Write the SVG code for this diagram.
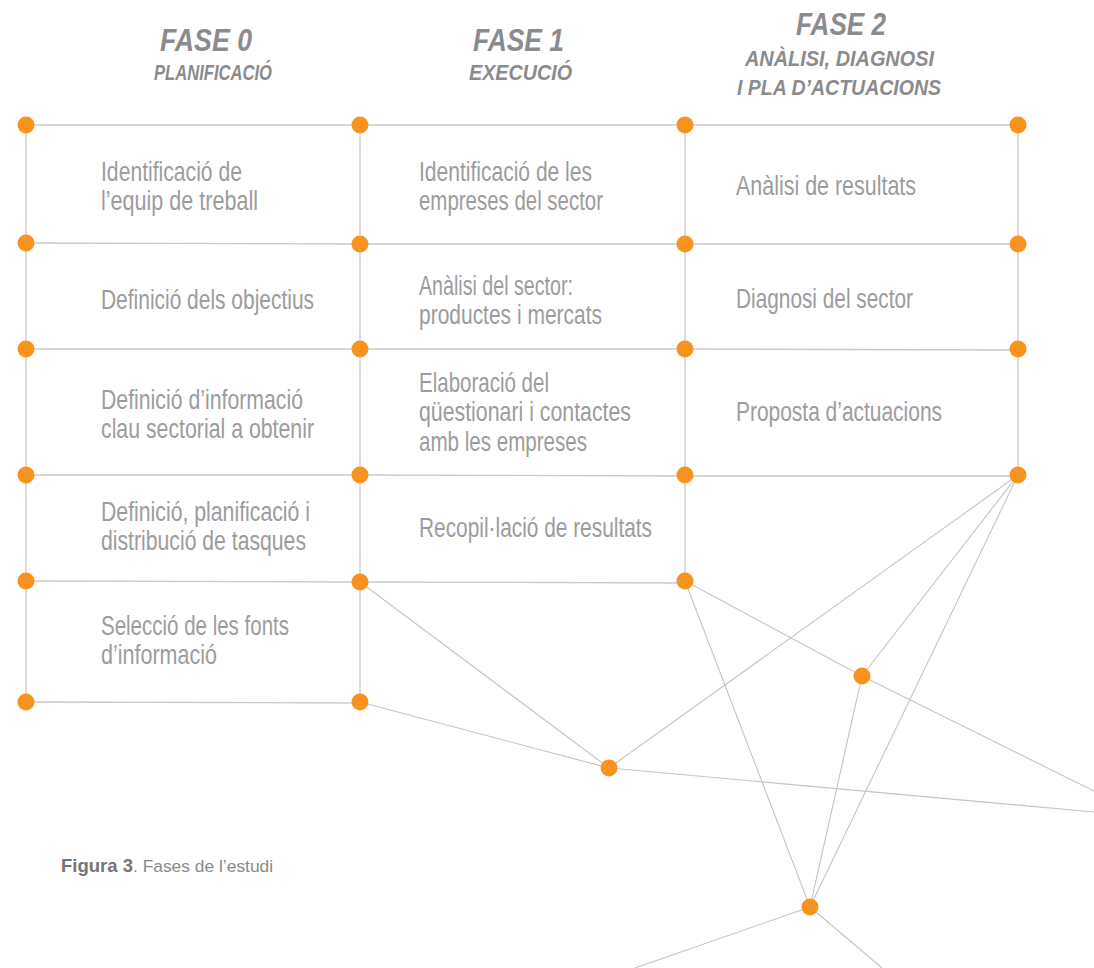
<svg xmlns="http://www.w3.org/2000/svg" width="1094" height="968" viewBox="0 0 1094 968">
<style>
.bg{fill:#ffffff}
.ln{stroke:#c9c9c9;stroke-width:1.3;fill:none}
.dg{stroke:#c4c4c4;stroke-width:1.1;fill:none}
.nd{fill:#f7931e}
.t{font-family:"Liberation Sans Narrow","Liberation Sans",Arial,sans-serif;font-size:27.5px;fill:#9c9c9e}
.h1{font-family:"Liberation Sans Narrow","Liberation Sans",Arial,sans-serif;font-size:32px;font-weight:bold;font-style:italic;fill:#8b8b8d}
.h2{font-family:"Liberation Sans Narrow","Liberation Sans",Arial,sans-serif;font-size:22px;font-weight:bold;font-style:italic;fill:#8b8b8d}
.cap{font-family:"Liberation Sans",Arial,sans-serif;font-size:17.4px;fill:#89898b}
.cb{font-family:"Liberation Sans Narrow","Liberation Sans",Arial,sans-serif;font-size:18.5px;font-weight:bold;fill:#747476}
</style>
<rect class="bg" x="0" y="0" width="1094" height="968"/>

<g id="headers">
<text class="h1" x="160" y="51" textLength="92" lengthAdjust="spacingAndGlyphs">FASE 0</text>
<text class="h2" x="154" y="80" textLength="118" lengthAdjust="spacingAndGlyphs">PLANIFICACIÓ</text>
<text class="h1" x="473" y="51" textLength="91" lengthAdjust="spacingAndGlyphs">FASE 1</text>
<text class="h2" x="469" y="80" textLength="103" lengthAdjust="spacingAndGlyphs">EXECUCIÓ</text>
<text class="h1" x="796" y="35" textLength="90" lengthAdjust="spacingAndGlyphs">FASE 2</text>
<text class="h2" x="745" y="66" textLength="189" lengthAdjust="spacingAndGlyphs">ANÀLISI, DIAGNOSI</text>
<text class="h2" x="737" y="95" textLength="204" lengthAdjust="spacingAndGlyphs">I PLA D’ACTUACIONS</text>
</g>

<g id="connectors">
<path class="ln" d="M26 125 L1018 125"/>
<path class="ln" d="M26 243 L360 244 L685 244 L1018 244"/>
<path class="ln" d="M26 349 L360 349 L685 349 L1018 350"/>
<path class="ln" d="M26 475 L360 475 L685 476 L1018 476"/>
<path class="ln" d="M26 581 L360 582 L685 583"/>
<path class="ln" d="M26 702 L360 703"/>
<path class="ln" d="M26 125 L26 702"/>
<path class="ln" d="M360 125 L360 702"/>
<path class="ln" d="M685 125 L685 581"/>
<path class="ln" d="M1018 125 L1018 475"/>
<path class="dg" d="M360 582 L609 768"/>
<path class="dg" d="M360 702 L609 768"/>
<path class="dg" d="M609 768 L1018 475"/>
<path class="dg" d="M609 768 L1094 812"/>
<path class="dg" d="M685 581 L862 676 L1094 791"/>
<path class="dg" d="M685 581 L810 907"/>
<path class="dg" d="M862 676 L810 907"/>
<path class="dg" d="M862 676 L1018 475"/>
<path class="dg" d="M1018 475 L810 907"/>
<path class="dg" d="M810 907 L635 968"/>
<path class="dg" d="M810 907 L882 968"/>
</g>

<g id="texts">
<g id="n-identificacio-equip"><text class="t" x="101" y="181" textLength="141" lengthAdjust="spacingAndGlyphs">Identificació de</text><text class="t" x="101" y="210" textLength="157" lengthAdjust="spacingAndGlyphs">l’equip de treball</text></g>
<g id="n-definicio-objectius"><text class="t" x="101" y="309" textLength="213" lengthAdjust="spacingAndGlyphs">Definició dels objectius</text></g>
<g id="n-definicio-informacio"><text class="t" x="101" y="409" textLength="202" lengthAdjust="spacingAndGlyphs">Definició d’informació</text><text class="t" x="101" y="438" textLength="213" lengthAdjust="spacingAndGlyphs">clau sectorial a obtenir</text></g>
<g id="n-definicio-planificacio"><text class="t" x="101" y="521" textLength="209" lengthAdjust="spacingAndGlyphs">Definició, planificació i</text><text class="t" x="101" y="550" textLength="205" lengthAdjust="spacingAndGlyphs">distribució de tasques</text></g>
<g id="n-seleccio-fonts"><text class="t" x="101" y="635" textLength="188" lengthAdjust="spacingAndGlyphs">Selecció de les fonts</text><text class="t" x="101" y="664" textLength="116" lengthAdjust="spacingAndGlyphs">d’informació</text></g>

<g id="n-identificacio-empreses"><text class="t" x="419" y="181" textLength="173" lengthAdjust="spacingAndGlyphs">Identificació de les</text><text class="t" x="419" y="210" textLength="184" lengthAdjust="spacingAndGlyphs">empreses del sector</text></g>
<g id="n-analisi-sector"><text class="t" x="419" y="295" textLength="154" lengthAdjust="spacingAndGlyphs">Anàlisi del sector:</text><text class="t" x="419" y="324" textLength="183" lengthAdjust="spacingAndGlyphs">productes i mercats</text></g>
<g id="n-elaboracio"><text class="t" x="419" y="392" textLength="130" lengthAdjust="spacingAndGlyphs">Elaboració del</text><text class="t" x="419" y="421" textLength="212" lengthAdjust="spacingAndGlyphs">qüestionari i contactes</text><text class="t" x="419" y="451" textLength="168" lengthAdjust="spacingAndGlyphs">amb les empreses</text></g>
<g id="n-recopilacio"><text class="t" x="419" y="537" textLength="233" lengthAdjust="spacingAndGlyphs">Recopil·lació de resultats</text></g>

<g id="n-analisi-resultats"><text class="t" x="736" y="195" textLength="180" lengthAdjust="spacingAndGlyphs">Anàlisi de resultats</text></g>
<g id="n-diagnosi"><text class="t" x="736" y="308" textLength="177" lengthAdjust="spacingAndGlyphs">Diagnosi del sector</text></g>
<g id="n-proposta"><text class="t" x="736" y="421" textLength="206" lengthAdjust="spacingAndGlyphs">Proposta d’actuacions</text></g>
</g>

<g id="nodes">
<circle class="nd" cx="26" cy="125" r="8.5"/><circle class="nd" cx="360" cy="125" r="8.5"/><circle class="nd" cx="685" cy="125" r="8.5"/><circle class="nd" cx="1018" cy="125" r="8.5"/>
<circle class="nd" cx="26" cy="243" r="8.5"/><circle class="nd" cx="360" cy="244" r="8.5"/><circle class="nd" cx="685" cy="244" r="8.5"/><circle class="nd" cx="1018" cy="244" r="8.5"/>
<circle class="nd" cx="26" cy="349" r="8.5"/><circle class="nd" cx="360" cy="349" r="8.5"/><circle class="nd" cx="685" cy="349" r="8.5"/><circle class="nd" cx="1018" cy="349" r="8.5"/>
<circle class="nd" cx="26" cy="475" r="8.5"/><circle class="nd" cx="360" cy="475" r="8.5"/><circle class="nd" cx="685" cy="475" r="8.5"/><circle class="nd" cx="1018" cy="475" r="8.5"/>
<circle class="nd" cx="26" cy="581" r="8.5"/><circle class="nd" cx="360" cy="582" r="8.5"/><circle class="nd" cx="685" cy="581" r="8.5"/>
<circle class="nd" cx="26" cy="702" r="8.5"/><circle class="nd" cx="360" cy="702" r="8.5"/>
<circle class="nd" cx="862" cy="676" r="8.5"/>
<circle class="nd" cx="609" cy="768" r="8.5"/>
<circle class="nd" cx="810" cy="907" r="8.5"/>
</g>

<g id="caption">
<text class="cap" x="61" y="872"><tspan class="cb">Figura 3</tspan>. Fases de l’estudi</text>
</g>
</svg>
